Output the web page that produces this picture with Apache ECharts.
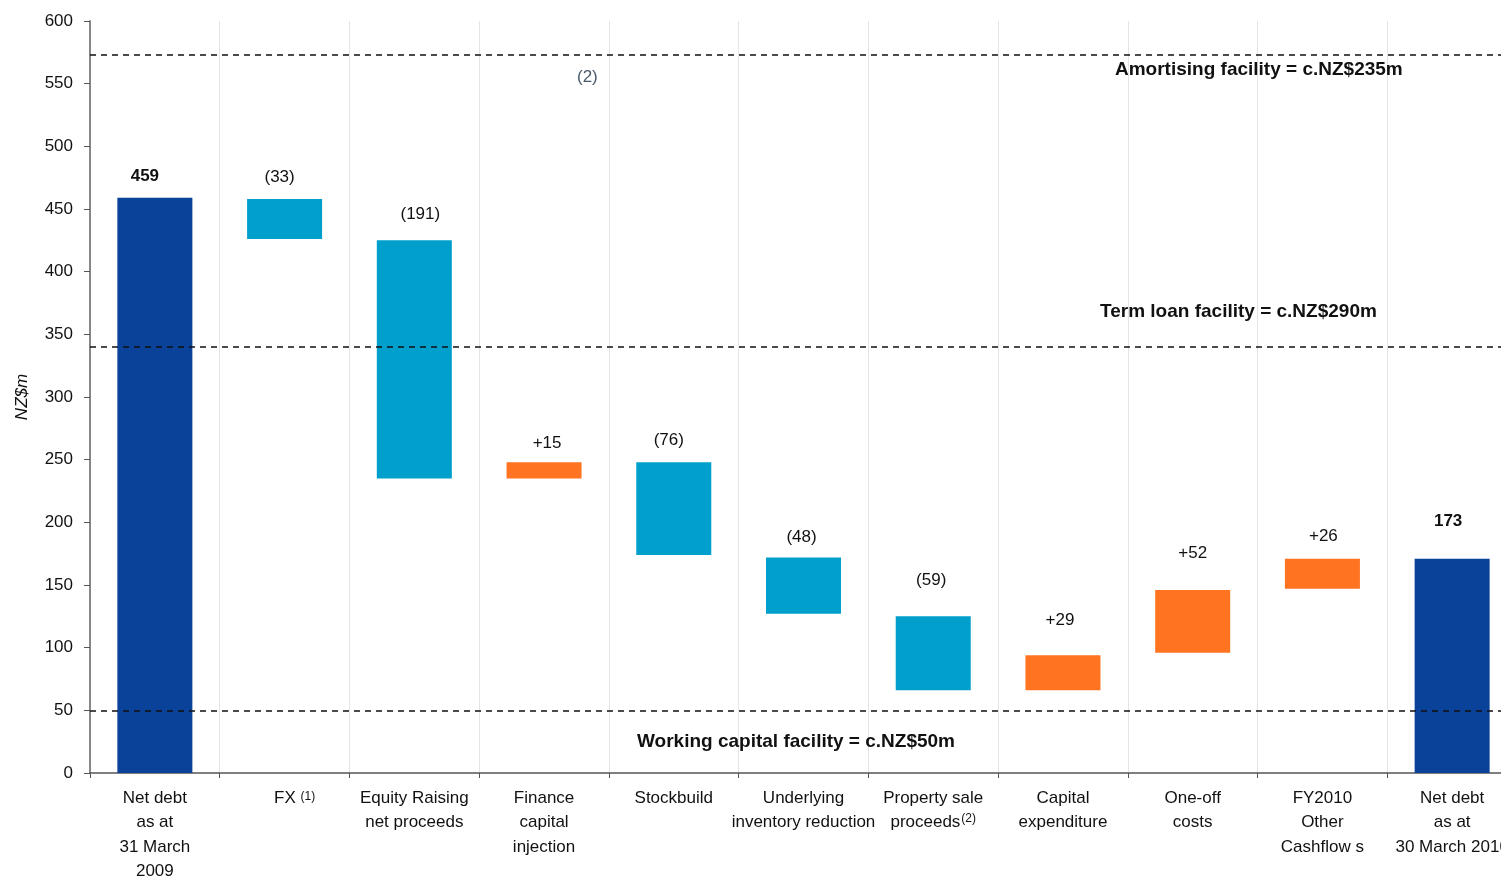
<!DOCTYPE html>
<html>
<head>
<meta charset="utf-8">
<script src="https://cdn.jsdelivr.net/npm/echarts@6/dist/echarts.min.js"></script>
<style>html,body{margin:0;padding:0;background:#fff;}#c{width:1501px;height:878px;}</style>
</head>
<body>
<div id="c"></div>
<script>
// ---- data ----
const categories = [
  'Net debt\nas at\n31 March\n2009',
  'FX',
  'Equity Raising\nnet proceeds',
  'Finance\ncapital\ninjection',
  'Stockbuild',
  'Underlying\ninventory reduction',
  'Property sale\nproceeds',
  'Capital\nexpenditure',
  'One-off\ncosts',
  'FY2010\nOther\nCashflow s',
  'Net debt\nas at\n30 March 2010'
];
const barLow  = [0,   426, 235, 235, 174, 127, 66,  66, 96,  147, 0];
const barHigh = [459, 458, 425, 248, 248, 172, 125, 94, 146, 171, 171];
const valueLabels = ['459', '(33)', '(191)', '+15', '(76)', '(48)', '(59)', '+29', '+52', '+26', '173'];
const barKind = ['total', 'down', 'down', 'up', 'down', 'down', 'down', 'up', 'up', 'up', 'total'];
const facilityLevels = [573, 340, 50];
const yTicks = { min: 0, max: 600, interval: 50 };

// ---- layout / style config ----
const labelGap = [13, 13, 18, 10, 13, 12, 28, 26, 28, 14, 29];
const labelShiftX = [-10, -5, 6, 3, -5, -2, -2, -3, 0, 1, -4];
const kindColor = { total: '#0A4199', down: '#009FCC', up: '#FF7321' };
const FONT = '"Liberation Sans", Arial, sans-serif';

const chart = echarts.init(document.getElementById('c'));

const baseData = barLow.map(v => v);
const deltaData = barHigh.map((h, i) => ({
  value: h - barLow[i],
  itemStyle: { color: kindColor[barKind[i]] },
  label: {
    distance: labelGap[i],
    offset: [labelShiftX[i], 0],
    fontWeight: barKind[i] === 'total' ? 'bold' : 'normal'
  }
}));

chart.setOption({
  animation: false,
  backgroundColor: '#fff',
  textStyle: { fontFamily: FONT },
  grid: { left: 90, top: 21, width: 1427, height: 752, containLabel: false, outerBoundsMode: 'none' },
  xAxis: {
    type: 'category',
    data: categories,
    boundaryGap: true,
    axisLine: { lineStyle: { color: '#555', width: 1.5 } },
    axisTick: { show: true, interval: 0, length: 5, lineStyle: { color: '#555' } },
    splitLine: { show: true, interval: 0, lineStyle: { color: '#e4e4e4', width: 1 } },
    axisLabel: {
      interval: 0,
      margin: 13,
      fontSize: 17,
      lineHeight: 24.5,
      color: '#111',
      fontFamily: FONT,
      formatter: function (v) {
        if (v === 'FX') return '{fx|FX} {s|(1)}';
        if (v.indexOf('proceeds') >= 0 && v.indexOf('Property') >= 0) return '{n|Property sale}\n{n|proceeds}{sup|(2)}';
        return v;
      },
      rich: {
        n: { fontSize: 17, lineHeight: 24.5, color: '#111', fontFamily: FONT },
        fx: { fontSize: 17, lineHeight: 24.5, color: '#111', fontFamily: FONT, padding: [0, 0, 0, 20] },
        s: { fontSize: 12, lineHeight: 24.5, color: '#111', fontFamily: FONT, padding: [0, 0, 4, 0] },
        sup: { fontSize: 12, lineHeight: 24.5, color: '#111', fontFamily: FONT, padding: [0, 0, 9, 1] }
      }
    }
  },
  yAxis: {
    type: 'value',
    min: yTicks.min,
    max: yTicks.max,
    interval: yTicks.interval,
    name: 'NZ$m',
    nameLocation: 'middle',
    nameGap: 59,
    nameRotate: 90,
    nameTextStyle: { fontSize: 17, fontStyle: 'italic', color: '#111', fontFamily: FONT },
    axisLine: { show: true, lineStyle: { color: '#888', width: 2 } },
    axisTick: { show: true, length: 6, lineStyle: { color: '#555' } },
    splitLine: { show: false },
    axisLabel: { fontSize: 17, color: '#111', margin: 17, fontFamily: FONT }
  },
  series: [
    {
      name: 'base',
      type: 'bar',
      stack: 'w',
      data: baseData,
      barWidth: 75,
      itemStyle: { color: 'transparent' },
      silent: true,
      markLine: {
        silent: true,
        symbol: 'none',
        label: { show: false },
        lineStyle: { color: '#111', type: [6, 5], width: 1.5 },
        data: facilityLevels.map(v => ({ yAxis: v }))
      }
    },
    {
      name: 'delta',
      type: 'bar',
      stack: 'w',
      data: deltaData,
      barWidth: 75,
      label: {
        show: true,
        position: 'top',
        fontSize: 17,
        color: '#111',
        fontFamily: FONT,
        formatter: p => valueLabels[p.dataIndex]
      }
    }
  ],
  graphic: [
    { type: 'text', z: 100, left: 1115, top: 60, style: { text: 'Amortising facility = c.NZ$235m', font: 'bold 19px ' + FONT, fill: '#111' } },
    { type: 'text', z: 100, left: 1100, top: 302, style: { text: 'Term loan facility = c.NZ$290m', font: 'bold 19px ' + FONT, fill: '#111' } },
    { type: 'text', z: 100, left: 637, top: 732, style: { text: 'Working capital facility = c.NZ$50m', font: 'bold 19px ' + FONT, fill: '#111' } },
    { type: 'text', z: 100, left: 577, top: 69, style: { text: '(2)', font: '17px ' + FONT, fill: '#4A5A6A' } }
  ]
});
</script>
</body>
</html>
